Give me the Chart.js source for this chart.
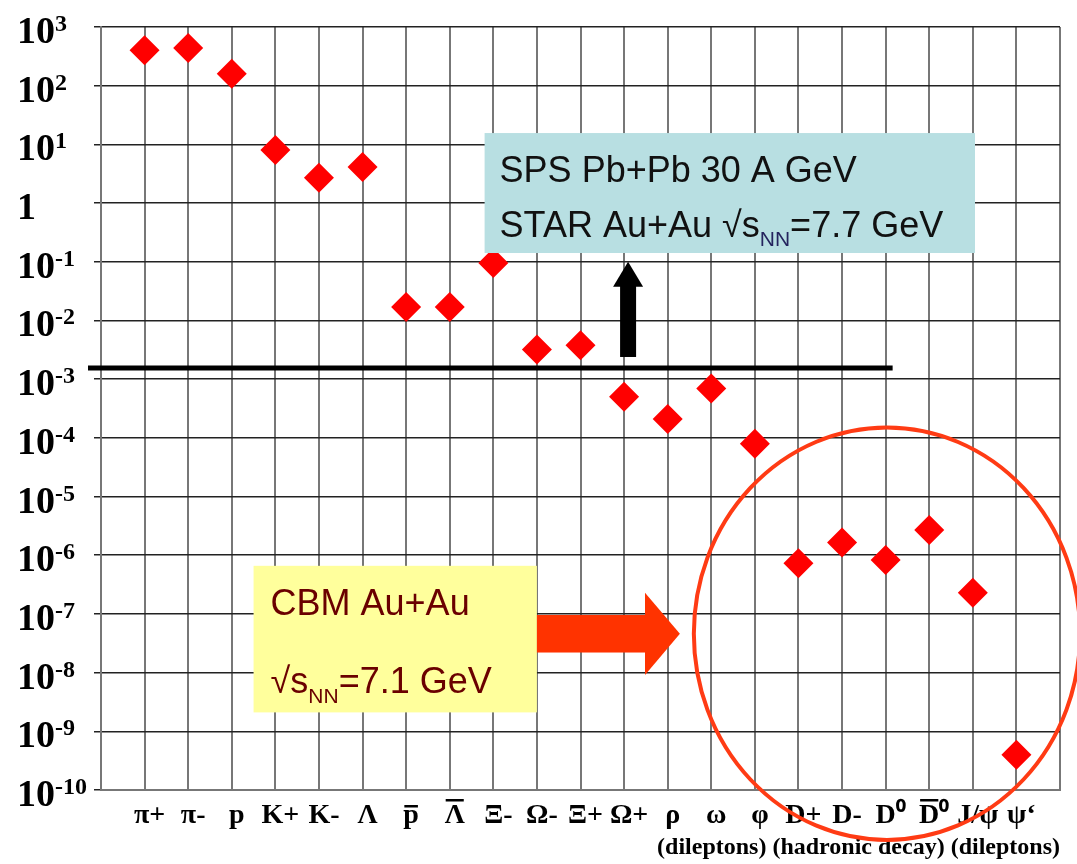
<!DOCTYPE html>
<html>
<head>
<meta charset="utf-8">
<title>Particle yields</title>
<script src="https://cdn.jsdelivr.net/npm/chart.js@4/dist/chart.umd.min.js"></script>
<style>
  html, body { margin: 0; padding: 0; background: #fff; }
  #wrap { width: 1077px; height: 864px; }
</style>
</head>
<body>
<div id="wrap"><canvas id="chart"></canvas></div>
<script>
// \u0304 marks an antiparticle (bar over the letter)
const particles = ["π+", "π-", "p", "K+", "K-", "Λ", "p\u0304", "\u039B\u0304", "Ξ-", "Ω-", "Ξ+", "Ω+",
  "ρ", "ω", "φ", "D+", "D-", "D\u2070", "D\u0304\u2070", "J/ψ", "ψ‘"];
const yields = [400, 440, 160, 8, 2.7, 4.1, 0.017, 0.017, 0.095, 0.0032, 0.0038, 5e-4,
  2.1e-4, 6.9e-4, 7.9e-5, 7.3e-7, 1.64e-6, 8.3e-7, 2.7e-6, 2.3e-7, 4e-10];

// y axis: one tick per decade, label is 10 raised to the exponent
const yTickExponents = [-10, -9, -8, -7, -6, -5, -4, -3, -2, -1, 0, 1, 2, 3];
const yTickValues = yTickExponents.map(e => Math.pow(10, e));

const threshold = 1.55e-3;
const channelNote = "(dileptons) (hadronic decay) (dileptons)";
const spsLines = ["SPS Pb+Pb 30 A GeV", "STAR Au+Au √s", "NN", "=7.7 GeV"];
const cbmLines = ["CBM Au+Au", "√s", "NN", "=7.1 GeV"];

const SERIF = "'Liberation Serif', 'Times New Roman', serif";
const SANS = "'Liberation Sans', Arial, sans-serif";
const X_SIZE = 28;
const X_LABEL_SHIFT = 5;

const MACRON = "\u0304";
const plainLabel = s => s.replace(MACRON, "");

// draws text pieces one after another, subscripts shifted down
function drawRuns(ctx, runs, x, y) {
  for (const r of runs) {
    ctx.font = r.font;
    ctx.fillStyle = r.color;
    ctx.fillText(r.text, x, y + (r.dy || 0));
    x += ctx.measureText(r.text).width;
  }
}

// decade labels with a real raised exponent, and bars over antiparticles
const axisText = {
  id: "axisText",
  afterDraw(chart) {
    const { ctx } = chart;
    const xs = chart.scales.x;
    const ys = chart.scales.y;
    ctx.save();
    ctx.textAlign = "left";
    ctx.textBaseline = "alphabetic";
    ctx.fillStyle = "#000";
    yTickExponents.forEach((e, i) => {
      const y = ys.getPixelForValue(yTickValues[i]);
      const x = chart.chartArea.left - 84;
      ctx.font = "bold 38px " + SERIF;
      const base = e === 0 ? "1" : "10";
      ctx.fillText(base, x, y + 16);
      if (e !== 0) {
        const w = ctx.measureText(base).width;
        ctx.font = "bold 24px " + SERIF;
        ctx.fillText(String(e), x + w, y + 4);
      }
    });

    ctx.font = "bold " + X_SIZE + "px " + SERIF;
    particles.forEach((name, i) => {
      if (!name.includes(MACRON)) return;
      const letter = name.split(MACRON)[0];
      const full = ctx.measureText(plainLabel(name)).width;
      const wl = ctx.measureText(letter).width;
      const left = xs.getPixelForValue(i) + X_LABEL_SHIFT - full / 2;
      const lower = letter === letter.toLowerCase();
      const by = xs.top + (lower ? 15 : 9);
      ctx.fillRect(left + 1, by, wl - 2, 2.5);
    });
    ctx.restore();
  }
};

const overlay = {
  id: "overlay",
  afterDraw(chart) {
    const { ctx, chartArea } = chart;
    const xs = chart.scales.x;
    const ys = chart.scales.y;
    const px = v => xs.getPixelForValue(v);
    const py = v => ys.getPixelForValue(v);

    ctx.save();

    // thick threshold line
    const ty = py(threshold);
    ctx.strokeStyle = "#000";
    ctx.lineWidth = 5;
    ctx.beginPath();
    ctx.moveTo(chartArea.left - 13, ty);
    ctx.lineTo(px(17) + 7, ty);
    ctx.stroke();

    // black arrow pointing up
    const ax = px(11) + 4;
    const tip = py(0.1);
    ctx.fillStyle = "#000";
    ctx.fillRect(ax - 8, tip + 24, 16, ty - 11 - tip - 24);
    ctx.beginPath();
    ctx.moveTo(ax, tip);
    ctx.lineTo(ax + 15, tip + 25);
    ctx.lineTo(ax - 15, tip + 25);
    ctx.closePath();
    ctx.fill();

    // SPS / STAR box
    const bl = px(7.8), br = px(19.05), bt = py(15.6), bb = py(0.141);
    ctx.fillStyle = "#b8dfe2";
    ctx.fillRect(bl, bt, br - bl, bb - bt);
    ctx.textBaseline = "alphabetic";
    ctx.textAlign = "left";
    drawRuns(ctx, [{ text: spsLines[0], font: "36px " + SANS, color: "#111" }], bl + 15, bt + 49);
    drawRuns(ctx, [
      { text: spsLines[1], font: "36px " + SANS, color: "#111" },
      { text: spsLines[2], font: "21px " + SANS, color: "#24245e", dy: 9 },
      { text: spsLines[3], font: "36px " + SANS, color: "#111" }
    ], bl + 15, bt + 104);

    // CBM box
    const cl = px(2.5), cr = px(9.0), ct = py(6.6e-7), cb = py(2.1e-9);
    ctx.fillStyle = "#ffff9c";
    ctx.fillRect(cl, ct, cr - cl, cb - ct);
    drawRuns(ctx, [{ text: cbmLines[0], font: "36px " + SANS, color: "#6a0000" }], cl + 17, ct + 49);
    drawRuns(ctx, [
      { text: cbmLines[1], font: "36px " + SANS, color: "#6a0000" },
      { text: cbmLines[2], font: "21px " + SANS, color: "#6a0000", dy: 10 },
      { text: cbmLines[3], font: "36px " + SANS, color: "#6a0000" }
    ], cl + 17, ct + 127);

    // red block arrow to the right
    ctx.fillStyle = "#ff3300";
    const s0 = py(9.6e-8), s1 = py(2.2e-8);
    const hb = px(11.48);
    ctx.fillRect(cr, s0, hb - cr, s1 - s0);
    ctx.beginPath();
    ctx.moveTo(hb, py(2.3e-7));
    ctx.lineTo(px(12.28), py(4.6e-8));
    ctx.lineTo(hb, py(9.1e-9));
    ctx.closePath();
    ctx.fill();

    // ellipse round the open charm / charmonium points
    const ex = px(17.03), ey = py(4.6e-8);
    const rx = px(17.03 + 4.43) - ex;
    const ry = py(Math.pow(10, -7.34 - 3.51)) - ey;
    ctx.strokeStyle = "#ff3b14";
    ctx.lineWidth = 4;
    ctx.beginPath();
    ctx.ellipse(ex, ey, rx, ry, 0, 0, Math.PI * 2);
    ctx.stroke();

    ctx.restore();
  }
};

const ctx = document.getElementById("chart").getContext("2d");

new Chart(ctx, {
  type: "scatter",
  data: {
    datasets: [{
      label: "yield",
      data: particles.map((p, i) => ({ x: i, y: yields[i] })),
      pointStyle: "rectRot",
      pointRadius: 15,
      pointBackgroundColor: "#ff0000",
      pointBorderWidth: 0
    }]
  },
  options: {
    responsive: true,
    maintainAspectRatio: false,
    animation: false,
    layout: { padding: { left: 17, right: 17, top: 27, bottom: 0 } },
    plugins: {
      legend: { display: false },
      tooltip: { enabled: false }
    },
    scales: {
      x: {
        type: "linear",
        min: -1,
        max: 21,
        afterFit: s => { s.height = 74; },
        grid: { color: "#777", lineWidth: 2, drawTicks: false },
        border: { color: "#777", width: 2 },
        ticks: {
          stepSize: 1,
          autoSkip: false,
          maxRotation: 0,
          padding: 9,
          labelOffset: X_LABEL_SHIFT,
          color: "#000",
          font: { family: SERIF, size: X_SIZE, weight: "bold" },
          callback: v => plainLabel(particles[v] ?? "")
        },
        title: {
          display: true,
          text: channelNote,
          align: "end",
          color: "#000",
          font: { family: SERIF, size: 24, weight: "bold" },
          padding: { top: 0, bottom: 2 }
        }
      },
      y: {
        type: "logarithmic",
        min: 1e-10,
        max: 1e3,
        afterFit: s => { s.width = 84; },
        afterBuildTicks: s => { s.ticks = yTickValues.map(v => ({ value: v })); },
        grid: { color: "#222", lineWidth: 1.5, tickLength: 7 },
        border: { color: "#777", width: 2 },
        ticks: { display: false }
      }
    }
  },
  plugins: [axisText, overlay]
});
</script>
</body>
</html>
